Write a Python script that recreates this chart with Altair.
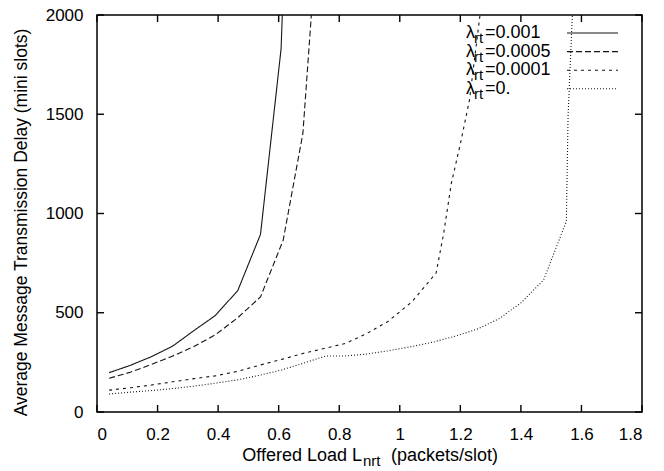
import altair as alt
import pandas as pd

FONT = "Liberation Sans"
INK = "#151515"

# ---- data ----
series_labels = ["=0.001", "=0.0005", "=0.0001", "=0."]

x_a = [0.04, 0.11, 0.18, 0.25, 0.32, 0.39, 0.465, 0.54, 0.608, 0.612]
y_a = [198, 235, 279, 332, 410, 485, 612, 895, 1830, 2000]

x_b = [0.04, 0.11, 0.18, 0.25, 0.32, 0.39, 0.465, 0.54, 0.615, 0.68, 0.708]
y_b = [170, 200, 240, 282, 330, 388, 475, 580, 866, 1404, 2000]

x_c = [0.04, 0.11, 0.18, 0.25, 0.32, 0.39, 0.465, 0.54, 0.61, 0.68, 0.75, 0.82,
       0.89, 0.96, 1.04, 1.12, 1.145, 1.17, 1.2, 1.23, 1.265]
y_c = [110, 122, 136, 152, 168, 182, 205, 237, 265, 295, 320, 345,
       395, 455, 555, 700, 900, 1150, 1350, 1570, 2000]

x_d = [0.04, 0.11, 0.18, 0.25, 0.32, 0.39, 0.465, 0.54, 0.61, 0.68, 0.755, 0.82,
       0.89, 0.96, 1.04, 1.11, 1.19, 1.26, 1.33, 1.40, 1.475, 1.55, 1.556, 1.57]
y_d = [91, 100, 108, 118, 130, 145, 162, 186, 212, 245, 282, 282,
       292, 308, 330, 352, 385, 420, 472, 550, 665, 960, 1500, 2000]

x_ticks = [0, 0.2, 0.4, 0.6, 0.8, 1.0, 1.2, 1.4, 1.6, 1.8]
y_ticks = [0, 500, 1000, 1500, 2000]

series_xy = [(x_a, y_a), (x_b, y_b), (x_c, y_c), (x_d, y_d)]
dashes = [[1, 0], [6, 3], [3, 4], [1, 2]]

W, H = 545, 397

xs = alt.Scale(domain=[0, 1.8], nice=False, zero=False)
ys = alt.Scale(domain=[0, 2000], nice=False)

layers = []

# data lines
for i, (xx, yy) in enumerate(series_xy):
    df = pd.DataFrame({"x": xx, "y": yy, "i": list(range(len(xx)))})
    enc = dict(
        x=alt.X("x:Q", scale=xs, axis=alt.Axis(values=x_ticks, format="~g", title=None)),
        y=alt.Y("y:Q", scale=ys, axis=alt.Axis(values=y_ticks, format="d",
                                                title="Average Message Transmission Delay (mini slots)",
                                                titleX=-76, titleY=207, titleAngle=-90,
                                                titleAlign="center", titleBaseline="middle",
                                                titleFont=FONT, titleFontSize=17.5,
                                                titleFontWeight="normal", titleColor="black")),
        order="i:Q",
    )
    layers.append(
        alt.Chart(df).mark_line(color=INK, strokeWidth=1.1, strokeDash=dashes[i], clip=True).encode(**enc)
    )

# inward ticks on all four sides
dfx = pd.DataFrame({"x": x_ticks})
dfy = pd.DataFrame({"y": y_ticks})
tick_style = dict(color="black", strokeWidth=1.4)
layers.append(alt.Chart(dfx).mark_rule(**tick_style).encode(
    x=alt.X("x:Q", scale=xs), y=alt.value(H), y2=alt.value(H - 7)))
layers.append(alt.Chart(dfx).mark_rule(**tick_style).encode(
    x=alt.X("x:Q", scale=xs), y=alt.value(0), y2=alt.value(7)))
layers.append(alt.Chart(dfy).mark_rule(**tick_style).encode(
    y=alt.Y("y:Q", scale=ys), x=alt.value(0), x2=alt.value(7)))
layers.append(alt.Chart(dfy).mark_rule(**tick_style).encode(
    y=alt.Y("y:Q", scale=ys), x=alt.value(W), x2=alt.value(W - 7)))

one = pd.DataFrame({"a": [0]})

# legend
for i, lab in enumerate(series_labels):
    yy = 18 + 18.6 * i
    layers.append(alt.Chart(one).mark_text(text="λ", font=FONT, fontSize=18, align="left",
                                           baseline="middle", color="black")
                  .encode(x=alt.value(369), y=alt.value(yy)))
    layers.append(alt.Chart(one).mark_text(text="rt", font=FONT, fontSize=15, align="left",
                                           baseline="middle", color="black")
                  .encode(x=alt.value(377), y=alt.value(yy + 5)))
    layers.append(alt.Chart(one).mark_text(text=lab, font=FONT, fontSize=18, align="left",
                                           baseline="middle", color="black")
                  .encode(x=alt.value(388), y=alt.value(yy)))
    layers.append(alt.Chart(one).mark_rule(color=INK, strokeWidth=1.1, strokeDash=dashes[i])
                  .encode(x=alt.value(470), x2=alt.value(521), y=alt.value(yy)))

# x-axis title with subscript
TY = 441
layers.append(alt.Chart(one).mark_text(text="Offered Load L", font=FONT, fontSize=18, align="right",
                                       baseline="middle", color="black")
              .encode(x=alt.value(265), y=alt.value(TY)))
layers.append(alt.Chart(one).mark_text(text="nrt", font=FONT, fontSize=15, align="left",
                                       baseline="middle", color="black")
              .encode(x=alt.value(266), y=alt.value(TY + 5)))
layers.append(alt.Chart(one).mark_text(text="(packets/slot)", font=FONT, fontSize=18, align="left",
                                       baseline="middle", color="black")
              .encode(x=alt.value(294), y=alt.value(TY)))

chart = alt.layer(*layers).properties(
    width=W, height=H,
    autosize=alt.AutoSizeParams(type="none"),
    padding={"left": 89, "top": 7, "right": 14, "bottom": 56},
).configure_view(
    stroke="black", strokeWidth=1.5
).configure_axis(
    ticks=False, tickSize=0, domain=False, grid=False,
    labelFont=FONT, labelFontSize=17, labelColor="black",
).configure_axisX(
    labelPadding=14
).configure_axisY(
    labelPadding=14
)

chart.save("out.html", embed_options={"renderer": "svg", "actions": False})
